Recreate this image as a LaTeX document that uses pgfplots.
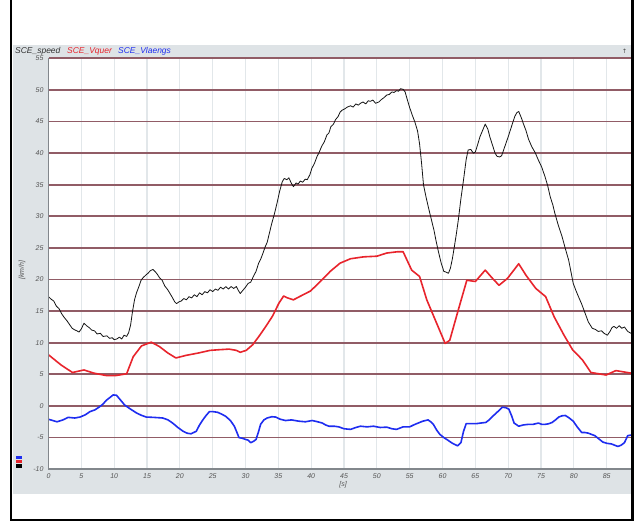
\documentclass[border=0pt]{standalone}
\usepackage{fontspec}
\setmainfont{Liberation Sans}
\newfontfamily\dejavu{DejaVu Sans}
\usepackage{pgfplots}
\pgfplotsset{compat=1.18}
\definecolor{panel}{RGB}{222,227,230}
\definecolor{hgrid}{RGB}{145,92,102}
\definecolor{vgrid}{RGB}{226,231,234}
\definecolor{tickc}{RGB}{85,85,85}
\definecolor{cblack}{RGB}{20,20,20}
\definecolor{cred}{RGB}{232,36,44}
\definecolor{cblue}{RGB}{30,45,240}
\definecolor{axgray}{RGB}{130,135,140}
\begin{document}
\begin{tikzpicture}[x=1bp,y=1bp]
\path[use as bounding box, fill=white] (0,0) rectangle (636,521);
\fill[panel] (13,27) rectangle (631,476);
\begin{axis}[name=ax, at={(48.5bp,51.8bp)}, anchor=south west, scale only axis,
  width=582.5bp, height=410.8bp,
  xmin=0, xmax=88.7, ymin=-10, ymax=55,
  xtick={0,5,...,85}, ytick={-10,-5,...,55},
  axis background/.style={fill=white},
  axis line style={draw=none},
  major tick length=0pt,
  xmajorgrids, ymajorgrids,
  x grid style={vgrid, line width=1.2bp},
  y grid style={hgrid, line width=1.8bp},
  tick label style={font=\fontsize{7}{8}\selectfont\itshape, text=tickc},
  /pgf/number format/assume math mode=true,
  yticklabel style={xshift=-1.5bp},
  xticklabel style={yshift=-0.5bp},
]
% SCE_Vlaengs (blue)
\addplot[cblue, line width=1.6bp, line join=round] coordinates {
(0,-2.1)(1.3,-2.5)(2.2,-2.2)(3.0,-1.8)(4.0,-1.9)(4.8,-1.75)(5.6,-1.4)(6.3,-0.9)(7.1,-0.6)(7.8,-0.1)
(8.3,0.3)(8.8,0.9)(9.3,1.3)(9.85,1.75)(10.35,1.7)(11.0,0.9)(11.6,0.15)(12.5,-0.5)(13.4,-1.1)(14.2,-1.5)
(14.9,-1.75)(16.0,-1.8)(17.4,-1.9)(18.2,-2.2)(18.9,-2.7)(19.7,-3.4)(20.5,-4.0)(21.1,-4.3)(21.7,-4.4)(22.1,-4.2)
(22.5,-4.0)(23.0,-3.0)(23.5,-2.2)(24.0,-1.5)(24.5,-0.9)(25.1,-0.9)(25.75,-1.0)(26.4,-1.3)(27.0,-1.65)(27.7,-2.3)
(28.3,-3.2)(28.7,-4.2)(29.0,-5.0)(29.5,-5.1)(30.05,-5.3)(30.4,-5.4)(30.8,-5.8)(31.2,-5.6)(31.6,-5.3)(32.0,-4.0)
(32.3,-2.9)(32.8,-2.2)(33.3,-1.9)(34.0,-1.7)(34.6,-1.75)(35.3,-2.1)(36.1,-2.3)(37.0,-2.2)(38.1,-2.4)(39.1,-2.5)
(40.15,-2.3)(41.0,-2.5)(41.7,-2.7)(42.2,-3.0)(42.7,-3.2)(43.5,-3.2)(44.2,-3.3)(45.0,-3.6)(46.0,-3.7)(46.8,-3.4)
(47.5,-3.2)(48.5,-3.3)(49.5,-3.2)(50.5,-3.4)(51.5,-3.35)(52.3,-3.6)(53.0,-3.7)(54.0,-3.3)(55.0,-3.3)(55.6,-3.0)
(56.05,-2.8)(57.0,-2.4)(57.8,-2.2)(58.2,-2.5)(58.6,-2.9)(59.1,-3.8)(59.6,-4.5)(60.2,-5.0)(60.8,-5.4)(61.5,-5.9)
(62.3,-6.3)(62.8,-5.8)(63.2,-4.0)(63.6,-2.8)(64.3,-2.8)(65.1,-2.8)(65.8,-2.7)(66.6,-2.6)(67.1,-2.2)(67.6,-1.65)
(68.0,-1.3)(68.4,-0.9)(68.8,-0.5)(69.1,-0.2)(69.6,-0.25)(70.1,-0.5)(70.5,-1.5)(70.9,-2.7)(71.6,-3.2)(72.3,-3.0)
(73.1,-2.9)(73.8,-2.9)(74.6,-2.7)(75.1,-2.9)(75.65,-2.9)(76.2,-2.8)(76.7,-2.6)(77.2,-2.2)(77.7,-1.75)(78.2,-1.55)
(78.7,-1.5)(79.3,-1.9)(79.9,-2.4)(80.5,-3.3)(81.2,-4.2)(81.7,-4.2)(82.2,-4.3)(82.7,-4.5)(83.2,-4.7)(83.8,-5.2)
(84.4,-5.7)(85.0,-5.9)(85.7,-6.0)(86.2,-6.2)(86.7,-6.4)(87.2,-6.2)(87.7,-5.8)(88.2,-4.7)(88.7,-4.6)
};
% SCE_Vquer (red)
\addplot[cred, line width=1.6bp, line join=round] coordinates {
(0,8.1)(1.9,6.5)(3.65,5.3)(5.4,5.7)(6.9,5.2)(8.9,4.8)(10.15,4.8)(11.9,5.1)(12.9,7.8)(14.15,9.5)
(15.65,10.1)(16.9,9.4)(18.15,8.4)(19.4,7.6)(20.9,8.0)(22.9,8.4)(24.6,8.8)(25.9,8.9)(27.5,9.0)(28.6,8.8)
(29.2,8.5)(30.1,8.8)(31.1,9.7)(32.1,11.1)(33.1,12.6)(34.1,14.2)(35.1,16.3)(35.8,17.4)(36.4,17.1)(37.3,16.8)
(38.4,17.4)(39.9,18.2)(41.4,19.7)(42.9,21.3)(44.4,22.6)(46.0,23.3)(48.0,23.6)(50.0,23.7)(51.5,24.2)(53.1,24.4)
(54.0,24.4)(55.3,21.5)(56.5,20.5)(57.6,16.8)(59.1,13.1)(60.4,9.9)(61.1,10.4)(62.4,15.2)(63.7,19.9)(65,19.7)
(66.5,21.5)(67.6,20.2)(68.6,19.1)(69.9,20.2)(71.6,22.5)(72.7,20.7)(74.2,18.6)(75.7,17.3)(77,14.1)(78.5,11.2)
(79.8,8.9)(81.3,7.3)(82.6,5.3)(84.9,4.9)(86.4,5.6)(88.7,5.2)
};
% SCE_speed (black)
\addplot[cblack, line width=0.8bp, line join=round] coordinates {
(0,17.3)(0.4,16.9)(0.8,16.6)(1.2,15.8)(1.6,15.4)(2.0,14.6)(2.4,14.0)(2.8,13.5)(3.2,12.9)(3.6,12.3)
(3.9,12.1)(4.3,11.9)(4.65,11.7)(5.0,12.2)(5.4,13.1)(5.8,12.7)(6.2,12.4)(6.6,12.0)(7.0,11.9)(7.4,11.4)
(7.9,11.5)(8.3,11.0)(8.9,11.1)(9.3,10.7)(9.7,10.8)(10.0,10.5)(10.4,10.6)(10.8,10.9)(11.15,10.6)(11.5,11.2)
(11.9,11.0)(12.2,11.6)(12.5,12.8)(12.8,15.0)(13.1,16.8)(13.4,17.9)(13.8,19.0)(14.1,19.9)(14.4,20.3)(14.8,20.7)
(15.15,21.0)(15.5,21.4)(15.9,21.6)(16.3,21.2)(16.6,20.8)(16.9,20.3)(17.3,19.9)(17.7,19.0)(18.15,18.4)(18.5,17.8)
(18.9,17.1)(19.2,16.5)(19.5,16.2)(19.9,16.5)(20.2,16.6)(20.6,17.0)(21.0,16.8)(21.4,17.3)(21.8,17.1)(22.2,17.6)
(22.6,17.3)(23.0,17.9)(23.4,17.6)(23.8,18.1)(24.2,17.9)(24.6,18.4)(25.0,18.1)(25.4,18.5)(25.8,18.3)(26.2,18.8)
(26.6,18.5)(27.0,18.9)(27.4,18.5)(27.8,18.9)(28.2,18.6)(28.6,18.9)(28.9,18.3)(29.2,17.8)(29.6,18.3)(30.0,18.8)
(30.4,19.4)(30.8,19.6)(31.2,20.5)(31.6,21.3)(32.0,22.6)(32.3,23.2)(32.7,24.3)(33.0,25.2)(33.3,25.9)(33.6,27.2)
(34.0,28.9)(34.4,30.4)(34.8,32.1)(35.2,34.0)(35.6,35.5)(35.9,36.0)(36.3,35.8)(36.6,36.1)(37.0,35.2)(37.3,34.7)
(37.7,35.3)(38.0,35.1)(38.35,35.6)(38.7,35.4)(39.1,35.9)(39.4,35.8)(39.8,36.6)(40.1,37.6)(40.5,38.4)(40.9,39.5)
(41.2,40.1)(41.6,41.1)(42.0,41.8)(42.4,42.9)(42.7,43.2)(43.0,44.2)(43.4,44.6)(43.7,45.3)(44.1,45.8)(44.4,46.5)
(44.7,46.8)(45.1,47.0)(45.5,47.3)(46.0,47.5)(46.4,47.3)(46.8,47.8)(47.2,47.6)(47.5,47.9)(47.9,48.1)(48.3,47.8)
(48.7,48.3)(49.0,48.2)(49.4,48.4)(49.8,47.9)(50.3,48.1)(50.7,48.5)(51.1,48.8)(51.5,49.2)(51.9,49.3)(52.3,49.7)
(52.6,49.6)(53.0,49.9)(53.3,49.8)(53.6,50.2)(54.0,50.1)(54.3,49.7)(54.6,48.6)(55.0,47.2)(55.4,46.0)(55.8,44.9)
(56.2,43.5)(56.5,41.5)(56.8,38.5)(57.1,35.0)(57.5,33.0)(57.9,31.2)(58.3,29.5)(58.7,27.8)(59.0,26.2)(59.4,24.3)
(59.8,22.6)(60.2,21.3)(60.5,21.2)(60.9,21.0)(61.2,21.8)(61.5,23.3)(61.8,25.2)(62.1,27.2)(62.4,29.4)(62.8,32.8)
(63.2,35.8)(63.6,39.0)(63.9,40.5)(64.3,40.6)(64.7,40.0)(65.0,40.2)(65.3,41.2)(65.7,42.6)(66.1,43.6)(66.5,44.6)
(66.9,43.8)(67.2,42.6)(67.6,41.3)(68.0,40.0)(68.3,39.5)(68.7,39.4)(69.0,39.6)(69.4,40.8)(70.0,42.6)(70.4,43.9)
(71.0,45.8)(71.3,46.4)(71.6,46.6)(72.0,45.6)(72.3,44.7)(72.7,43.6)(73.1,42.2)(73.6,41.0)(74.1,40.1)(74.6,38.9)
(75.1,37.8)(75.6,36.3)(76.0,34.9)(76.4,33.1)(76.8,31.8)(77.1,30.5)(77.6,28.7)(78.2,26.8)(78.7,24.9)(79.2,23.1)
(79.6,21.0)(79.9,19.4)(80.3,18.3)(80.7,17.3)(81.2,16.1)(81.7,14.7)(82.2,13.3)(82.8,12.3)(83.3,12.1)(83.7,11.8)
(84.2,11.9)(84.6,11.5)(85.1,11.2)(85.5,11.8)(85.8,12.4)(86.1,12.6)(86.5,12.3)(86.9,12.7)(87.3,12.3)(87.7,12.5)
(88.2,11.8)(88.7,11.5)
};
\end{axis}
% axis lines (left and bottom edges of the plot area)
\draw[axgray, line width=1.5bp] (ax.north west)--(ax.south west)--(ax.south east);
% legend texts
\node[anchor=base west, inner sep=0, font=\fontsize{8.5}{10}\selectfont\itshape, text=black!80] at (15,467) {SCE\_speed};
\node[anchor=base west, inner sep=0, font=\fontsize{8.5}{10}\selectfont\itshape, text=cred] at (67,467) {SCE\_Vquer};
\node[anchor=base west, inner sep=0, font=\fontsize{8.5}{10}\selectfont\itshape, text=cblue] at (118,467) {SCE\_Vlaengs};
\node[font=\dejavu\fontsize{6}{6}\selectfont, text=black!75, inner sep=0] at (624.5,470) {↑};
% axis titles
\node[rotate=90, font=\fontsize{7}{8}\selectfont\itshape, text=tickc] at (22,251) {[km/h]};
\node[font=\fontsize{7}{8}\selectfont\itshape, text=tickc] at (343,36) {[s]};
% small colour keys
\fill[cblue] (16,62) rectangle (22,65);
\fill[cred] (16,57.5) rectangle (22,61);
\fill[black] (16,52.5) rectangle (22,56.5);
% outer frame
\draw[black, line width=2.5bp] (11,521)--(11,1.2)--(632.5,1.2)--(632.5,521);
\end{tikzpicture}
\end{document}
